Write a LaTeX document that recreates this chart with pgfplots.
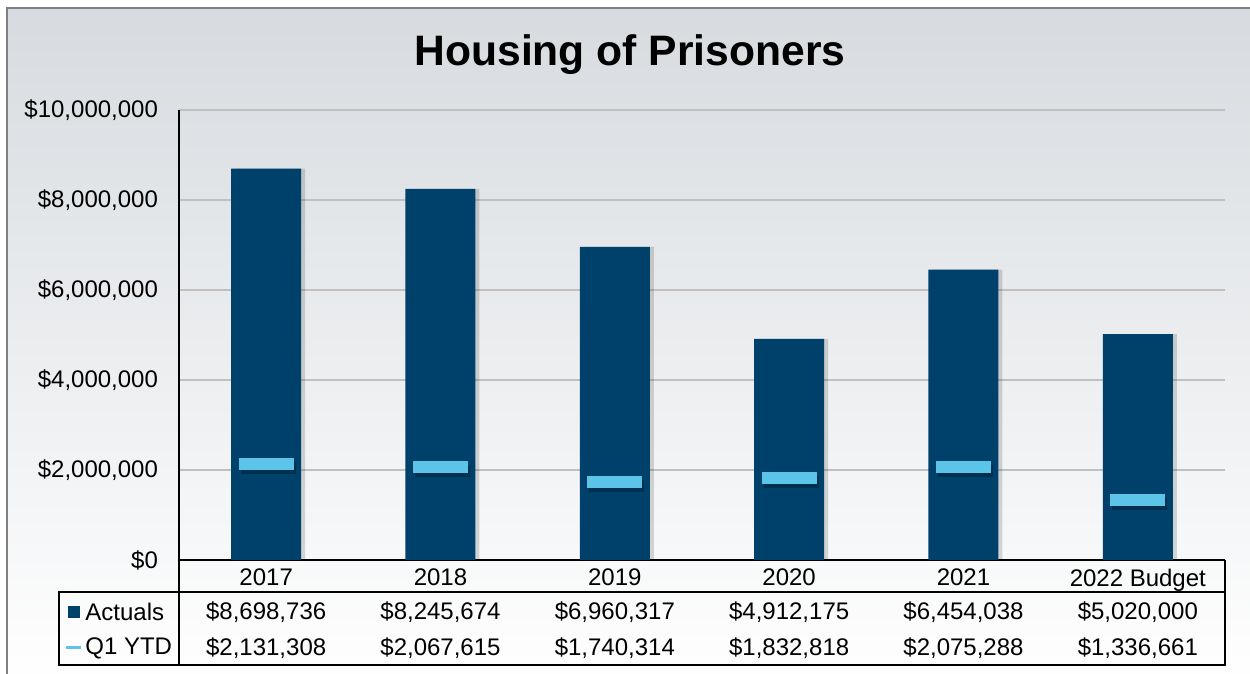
\documentclass[border=0pt]{standalone}
\usepackage{fontspec}
\setmainfont{Liberation Sans}
\usepackage{pgfplots}
\usepackage{pgfplotstable}
\pgfplotsset{compat=1.18}

\definecolor{actual}{HTML}{00416B}
\definecolor{ytd}{HTML}{5BC4E8}
\definecolor{bgtop}{HTML}{D7DBDF}
\definecolor{gridc}{HTML}{C0C0C0}

\pgfplotstableread{
x act ytd
0 8698736 2131308
1 8245674 2067615
2 6960317 1740314
3 4912175 1832818
4 6454038 2075288
5 5020000 1336661
}\housing

\newcommand{\tfont}{\fontsize{12}{14}\selectfont}

\begin{document}
\begin{tikzpicture}[x=0.5pt,y=0.5pt]
\useasboundingbox (0,0) rectangle (1250,674);
\fill[white] (0,0) rectangle (1250,674);
\shade[top color=bgtop, bottom color=white] (7,-10) rectangle (1270,666);
\draw[gray, line width=1pt] (7,-10) -- (7,666) -- (1270,666);
\coordinate (origin) at (179,114);

\node[font=\fontsize{21.3}{26}\selectfont\bfseries] at (630,619) {Housing of Prisoners};

\begin{axis}[
    at={(origin)}, anchor=south west,
    scale only axis,
    width=523pt, height=225pt,
    xmin=-0.5, xmax=5.5,
    ymin=0, ymax=10000000,
    clip=false,
    axis x line*=bottom, axis y line*=left,
    axis line style={black, line width=1pt, -},
    major tick length=0pt,
    ytick={0,2000000,4000000,6000000,8000000,10000000},
    yticklabels={{\$0},{\$2,000,000},{\$4,000,000},{\$6,000,000},{\$8,000,000},{\$10,000,000}},
    scaled y ticks=false,
    yticklabel style={xshift=-7pt},
    xtick={0,1,2,3,4,5},
    xticklabels={2017,2018,2019,2020,2021,2022 Budget},
    xticklabel style={yshift=-1pt},
    tick label style={font=\tfont},
    ymajorgrids,
    grid style={gridc, line width=1pt},
]
\addplot[ybar, bar width=35pt, bar shift=2pt, fill=black, opacity=0.15, draw=none, forget plot]
    table[x=x, y=act] {\housing};
\addplot[ybar, bar width=35pt, bar shift=0pt, fill=actual, draw=none]
    table[x=x, y=act] {\housing};
\addplot[only marks, mark=-, mark size=13.75pt, xshift=1pt, yshift=-2pt,
    mark options={line width=6pt, black, opacity=0.25}, forget plot]
    table[x=x, y=ytd] {\housing};
\addplot[only marks, mark=-, mark size=13.75pt,
    mark options={line width=6pt, ytd}]
    table[x=x, y=ytd] {\housing};

\begin{scope}[every node/.style={font=\tfont}]
\node at ([yshift=-26pt]axis cs:0,0) {\$8,698,736};
\node at ([yshift=-26pt]axis cs:1,0) {\$8,245,674};
\node at ([yshift=-26pt]axis cs:2,0) {\$6,960,317};
\node at ([yshift=-26pt]axis cs:3,0) {\$4,912,175};
\node at ([yshift=-26pt]axis cs:4,0) {\$6,454,038};
\node at ([yshift=-26pt]axis cs:5,0) {\$5,020,000};
\node at ([yshift=-44pt]axis cs:0,0) {\$2,131,308};
\node at ([yshift=-44pt]axis cs:1,0) {\$2,067,615};
\node at ([yshift=-44pt]axis cs:2,0) {\$1,740,314};
\node at ([yshift=-44pt]axis cs:3,0) {\$1,832,818};
\node at ([yshift=-44pt]axis cs:4,0) {\$2,075,288};
\node at ([yshift=-44pt]axis cs:5,0) {\$1,336,661};
\end{scope}
\end{axis}

% data table frame
\draw[black, line width=1pt] (1225,114) -- (1225,9) -- (59,9) -- (59,82) -- (1225,82);
\draw[black, line width=1pt] (179,114) -- (179,9);
\fill[actual] (68,56) rectangle (80,68);
\node[anchor=west, font=\tfont, inner sep=0pt] at (85,62) {Actuals};
\draw[ytd, line width=1.5pt] (66,26) -- (81,26);
\node[anchor=west, font=\tfont, inner sep=0pt] at (85,26) {Q1 YTD};
\end{tikzpicture}
\end{document}
